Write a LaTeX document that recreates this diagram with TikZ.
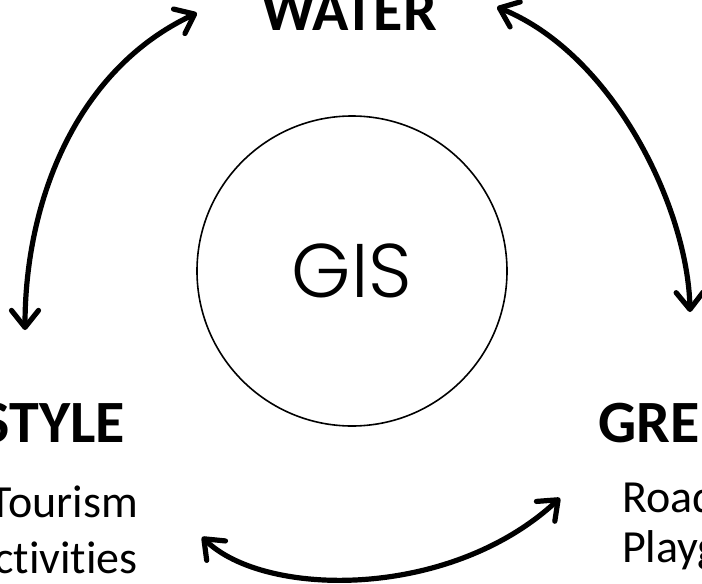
\documentclass[tikz,border=0pt]{standalone}
\usepackage{fontspec}
\setmainfont{Carlito}[Ligatures=NoCommon]
\newfontfamily\gisfont{Poppins Light}
\usetikzlibrary{arrows.meta}

\begin{document}
\begin{tikzpicture}[x=1pt, y=-1pt,
    heading/.style={font=\fontsize{60}{60}\selectfont\bfseries, inner sep=0pt},
    entry/.style={font=\fontsize{46}{46}\selectfont, inner sep=0pt},
    twoway/.style={line width=5.2pt, line cap=round,
      {Straight Barb[length=17pt,width=27pt,round]}-{Straight Barb[length=17pt,width=27pt,round]}}]
    \path[use as bounding box] (0,0) rectangle (702,584);
    \clip (0,0) rectangle (702,584);

    % centre
    \node[draw, circle, line width=1.6pt, minimum size=310pt, inner sep=0pt,
      font=\gisfont\fontsize{76}{76}\selectfont] (gis) at (352,271) {GIS};

    % the three themes
    \node[heading, anchor=base] (water) at (349,30) {WATER};
    \node[heading, anchor=base east] (life) at (125,442) {STYLE};
    \node[heading, anchor=base west] (green) at (598,442) {GRE};
    \node[entry, anchor=base east] (tour) at (138,517) {Tourism};
    \node[entry, anchor=base east] (act) at (138,573) {ctivities};
    \node[entry, anchor=base west] (road) at (622,512) {Road};
    \node[entry, anchor=base west] (play) at (622,562) {Playg};

    % arrow ends
    \coordinate (life-n) at (25,330);
    \coordinate (water-w) at (197,13);
    \coordinate (water-e) at (497,7);
    \coordinate (green-n) at (690,312);
    \coordinate (green-s) at (560,498);
    \coordinate (life-s) at (202,537);

    \draw[twoway] (life-n) .. controls (25,200) and (77,69) .. (water-w);
    \draw[twoway] (water-e) .. controls (615,55) and (688,210) .. (green-n);
    \draw[twoway] (life-s) .. controls (265,598) and (450,600) .. (green-s);
\end{tikzpicture}
\end{document}
